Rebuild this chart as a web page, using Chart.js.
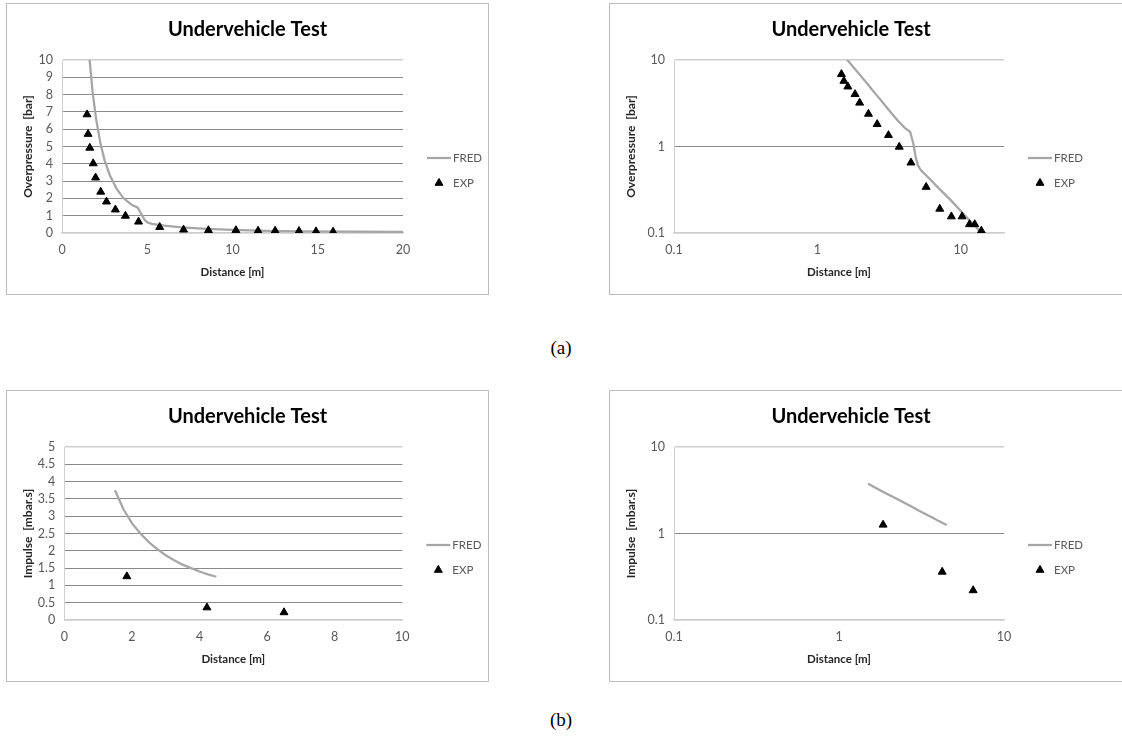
<!DOCTYPE html>
<html><head><meta charset="utf-8">
<script src="https://cdn.jsdelivr.net/npm/chart.js@4/dist/chart.umd.min.js"></script>
<style>
html,body{margin:0;padding:0;background:#fff;width:1122px;height:747px;overflow:hidden;position:relative;}
.frame{position:absolute;box-sizing:border-box;border:1px solid #bcbcbc;height:292px;background:#fff;overflow:hidden;}
.frame canvas{display:block;}
.cap{position:absolute;width:60px;text-align:center;font-family:"Liberation Serif","Times New Roman",serif;font-size:19px;line-height:22px;color:#000;}
</style></head><body>
<div class="frame" style="left:6px;top:3px;width:483px"><canvas id="c1" width="481" height="290"></canvas></div>
<div class="frame" style="left:609px;top:3px;width:530px"><canvas id="c2" width="482" height="290"></canvas></div>
<div class="frame" style="left:6px;top:390px;width:483px"><canvas id="c3" width="481" height="290"></canvas></div>
<div class="frame" style="left:609px;top:390px;width:530px"><canvas id="c4" width="482" height="290"></canvas></div>
<div class="cap" style="left:531px;top:337px">(a)</div>
<div class="cap" style="left:531px;top:709px">(b)</div>
<script>
// ---------- data ----------
const SERIES = ['FRED', 'EXP'];
const TITLE = 'Undervehicle Test';
const X_TITLE = 'Distance [m]';
const Y_TITLE_P = 'Overpressure  [bar]';
const Y_TITLE_I = 'Impulse  [mbar.s]';

const FRED_DIST = [1.5, 1.62, 1.8, 2.0, 2.25, 2.5, 2.8, 3.2, 3.6, 4.1, 4.43, 4.66, 4.84, 5.01, 5.27, 6, 7, 8.5, 10, 12, 14, 17, 20];
const FRED_OVERPRESSURE = [11.7, 10, 8.1, 6.6, 5.2, 4.2, 3.35, 2.56, 2.02, 1.62, 1.48, 1.09, 0.76, 0.61, 0.53, 0.43, 0.33, 0.24, 0.18, 0.13, 0.1, 0.075, 0.058];
const EXP_DIST = [1.47, 1.53, 1.63, 1.83, 1.97, 2.27, 2.61, 3.13, 3.72, 4.49, 5.73, 7.13, 8.59, 10.2, 11.5, 12.5, 13.9, 14.9, 15.9];
const EXP_OVERPRESSURE = [6.85, 5.72, 4.92, 4.02, 3.2, 2.38, 1.81, 1.35, 0.99, 0.65, 0.34, 0.19, 0.155, 0.155, 0.126, 0.126, 0.106, 0.09, 0.07];

const FRED_IMP_DIST = [1.5, 1.75, 2, 2.25, 2.5, 2.75, 3, 3.25, 3.5, 3.75, 4, 4.25, 4.5];
const FRED_IMPULSE = [3.75, 3.2, 2.8, 2.5, 2.25, 2.05, 1.87, 1.73, 1.6, 1.5, 1.4, 1.32, 1.25];
const EXP_IMP_DIST = [1.85, 4.22, 6.5];
const EXP_IMPULSE = [1.26, 0.36, 0.22];

const TICKS_P_X = [0, 5, 10, 15, 20];
const TICKS_P_Y = [0, 1, 2, 3, 4, 5, 6, 7, 8, 9, 10];
const TICKS_I_X = [0, 2, 4, 6, 8, 10];
const TICKS_I_Y = [0, 0.5, 1, 1.5, 2, 2.5, 3, 3.5, 4, 4.5, 5];
const TICKS_LOG = [0.1, 1, 10];

// ---------- helpers ----------
Chart.defaults.font.family = 'Lato, "Open Sans", sans-serif';
const GRID_MID = '#8a8a8a', GRID_EDGE = '#cdcdcd', TICK_COL = '#595959';

function pts(xs, ys, lo, hi) {
  const out = [];
  xs.forEach((x, i) => {
    const y = ys[i];
    if (lo === undefined || (y >= lo && y <= hi)) out.push({x: x, y: y});
  });
  return out;
}

const sideLegend = {
  id: 'sideLegend',
  afterDraw(chart, args, o) {
    const ctx = chart.ctx;
    ctx.save();
    chart.data.datasets.forEach((ds, i) => {
      const y = o.y0 + i * o.gap;
      if (ds.showLine) {
        ctx.strokeStyle = ds.borderColor;
        ctx.lineWidth = ds.borderWidth;
        ctx.beginPath();
        ctx.moveTo(o.x0, y);
        ctx.lineTo(o.x0 + o.len, y);
        ctx.stroke();
      } else {
        ctx.fillStyle = ds.backgroundColor;
        ctx.strokeStyle = ds.borderColor;
        ctx.lineWidth = 1;
        if (Chart.helpers && Chart.helpers.drawPoint) {
          Chart.helpers.drawPoint(ctx, {pointStyle: 'triangle', radius: ds.pointRadius, borderWidth: 1, rotation: 0}, o.x0 + o.len / 2, y);
        }
      }
      ctx.fillStyle = TICK_COL;
      ctx.font = '11.5px Lato, "Open Sans", sans-serif';
      ctx.textBaseline = 'middle';
      ctx.textAlign = 'left';
      ctx.fillText(ds.label, o.x0 + o.len + 2, y);
    });
    ctx.restore();
  }
};

function gridColor(c) {
  const n = c.scale.ticks.length;
  return (c.index === 0 || c.index === n - 1) ? GRID_EDGE : GRID_MID;
}
function gridWidth(c) {
  const n = c.scale.ticks.length;
  return (c.index === 0 || c.index === n - 1) ? 1.6 : 1;
}

function makeChart(id, g) {
  const log = g.type === 'logarithmic';
  const fred = pts(g.fx, g.fy);
  const exp = log ? pts(g.ex, g.ey, g.ymin, g.ymax) : pts(g.ex, g.ey);
  const cv = document.getElementById(id);
  const W = cv.width, H = cv.height, plotTop = 56, plotBottom = 229;
  return new Chart(cv, {
    type: 'scatter',
    data: {
      datasets: [
        {label: SERIES[0], data: fred, showLine: true, pointRadius: 0, borderColor: '#a6a6a6', backgroundColor: '#a6a6a6', borderWidth: 2.25, order: 2, tension: 0},
        {label: SERIES[1], data: exp, showLine: false, pointStyle: 'triangle', pointRadius: 4.6, backgroundColor: '#000', borderColor: '#000', borderWidth: 1, order: 1}
      ]
    },
    options: {
      responsive: false,
      animation: false,
      events: [],
      layout: {padding: 0},
      plugins: {
        legend: {display: false},
        tooltip: {enabled: false},
        title: {display: true, text: TITLE, color: '#000', font: {size: 20, weight: 'bold'}, padding: {top: 14, bottom: plotTop - 14 - 24}},
        sideLegend: {x0: g.plotRight + 24, len: 24, y0: 154, gap: 25}
      },
      scales: {
        x: {
          type: g.type, min: g.xmin, max: g.xmax,
          afterBuildTicks: s => { s.ticks = g.xt.map(v => ({value: v})); },
          afterFit: s => { s.height = H - plotBottom; },
          grid: {display: false, drawTicks: false},
          border: {display: true, color: GRID_EDGE, width: 1.6},
          ticks: {color: TICK_COL, font: {size: 12.5}, padding: 9, maxRotation: 0, autoSkip: false, callback: v => String(v)},
          title: {display: true, text: X_TITLE, color: '#262626', font: {size: 11.5, weight: 'bold'}, padding: {top: 0, bottom: 15}}
        },
        y: {
          type: g.type, min: g.ymin, max: g.ymax,
          afterBuildTicks: s => { s.ticks = g.yt.map(v => ({value: v})); },
          afterFit: s => { s.width = g.plotLeft; },
          grid: {display: true, drawTicks: false, color: gridColor, lineWidth: gridWidth},
          border: {display: true, color: '#d0d0d0', width: 1},
          ticks: {color: TICK_COL, font: {size: 12.5}, padding: 9, autoSkip: false, callback: v => String(v)},
          title: {display: true, text: g.ytitle, color: '#262626', font: {size: 12, weight: 'bold'}, padding: {top: 14.3, bottom: 0}}
        },
        legendSpace: {
          type: 'linear', position: 'right', min: 0, max: 1, display: true,
          afterFit: s => { s.width = W - g.plotRight; },
          grid: {display: false, drawTicks: false},
          border: {display: false},
          ticks: {display: false}
        }
      }
    },
    plugins: [sideLegend]
  });
}

makeChart('c1', {type: 'linear', xmin: 0, xmax: 20, ymin: 0, ymax: 10, xt: TICKS_P_X, yt: TICKS_P_Y,
  fx: FRED_DIST, fy: FRED_OVERPRESSURE, ex: EXP_DIST, ey: EXP_OVERPRESSURE, ytitle: Y_TITLE_P, plotLeft: 55, plotRight: 396});
makeChart('c2', {type: 'logarithmic', xmin: 0.1, xmax: 20, ymin: 0.1, ymax: 10, xt: TICKS_LOG, yt: TICKS_LOG,
  fx: FRED_DIST, fy: FRED_OVERPRESSURE, ex: EXP_DIST, ey: EXP_OVERPRESSURE, ytitle: Y_TITLE_P, plotLeft: 64, plotRight: 394});
makeChart('c3', {type: 'linear', xmin: 0, xmax: 10, ymin: 0, ymax: 5, xt: TICKS_I_X, yt: TICKS_I_Y,
  fx: FRED_IMP_DIST, fy: FRED_IMPULSE, ex: EXP_IMP_DIST, ey: EXP_IMPULSE, ytitle: Y_TITLE_I, plotLeft: 57.3, plotRight: 395.3});
makeChart('c4', {type: 'logarithmic', xmin: 0.1, xmax: 10, ymin: 0.1, ymax: 10, xt: TICKS_LOG, yt: TICKS_LOG,
  fx: FRED_IMP_DIST, fy: FRED_IMPULSE, ex: EXP_IMP_DIST, ey: EXP_IMPULSE, ytitle: Y_TITLE_I, plotLeft: 64, plotRight: 394});
</script>
</body></html>
